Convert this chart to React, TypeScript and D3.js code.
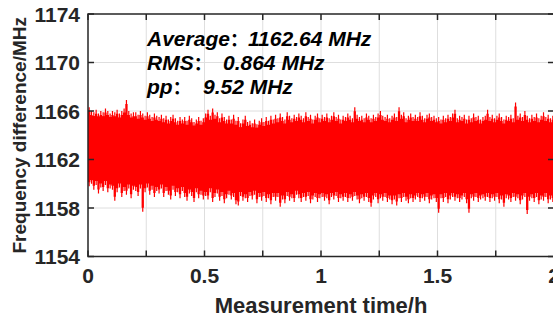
import * as d3 from "d3";

// axis ticks
const xTicks = [0, 0.5, 1, 1.5, 2];
const xGrid = [0.25, 0.5, 0.75, 1, 1.25, 1.5, 1.75];
const yTicks = [1154, 1158, 1162, 1166, 1170, 1174];

// dense body of the noise band, every 0.1 h
const coreTime = [0, 0.1, 0.2, 0.3, 0.4, 0.5, 0.6, 0.7, 0.8, 0.9, 1.0, 1.1, 1.2, 1.3, 1.4, 1.5, 1.6, 1.7, 1.8, 1.9, 2.0];
const coreHi = [1165.6, 1165.5, 1165.3, 1165.0, 1164.8, 1164.8, 1164.7, 1164.6, 1164.7, 1164.9, 1164.9, 1164.9, 1164.9, 1164.9, 1164.9, 1164.8, 1164.9, 1164.8, 1164.8, 1164.8, 1164.8];
const coreLo = [1160.3, 1160.2, 1160.2, 1160.2, 1160.0, 1160.0, 1160.0, 1159.9, 1159.9, 1160.0, 1160.0, 1160.0, 1160.0, 1159.9, 1159.9, 1159.9, 1159.9, 1159.9, 1159.9, 1159.9, 1159.9];

// spike extremes, one pair every 0.01 h
const spikeHi = [
  1166.3, 1166.0, 1165.9, 1166.1, 1165.8, 1166.0, 1165.9, 1166.2, 1166.0, 1165.8,
  1166.0, 1165.9, 1166.1, 1165.8, 1166.0, 1166.2, 1166.9, 1166.0, 1165.8, 1165.9,
  1165.9, 1165.7, 1166.0, 1165.8, 1165.6, 1165.9, 1165.7, 1165.5, 1165.8, 1165.6,
  1165.5, 1165.7, 1165.4, 1165.6, 1165.3, 1165.5, 1165.7, 1165.4, 1165.2, 1165.5,
  1165.3, 1165.5, 1165.2, 1165.6, 1165.4, 1165.1, 1165.3, 1165.5, 1165.2, 1165.4,
  1165.8, 1166.1, 1165.6, 1166.2, 1165.7, 1165.9, 1165.4, 1165.8, 1165.5, 1165.3,
  1165.6, 1165.3, 1165.7, 1165.2, 1165.5, 1165.0, 1165.3, 1165.6, 1165.1, 1165.2,
  1165.0, 1165.3, 1164.9, 1165.2, 1165.4, 1165.1, 1165.5, 1165.2, 1165.6, 1165.3,
  1165.7, 1165.4, 1165.8, 1165.5, 1165.3, 1165.9, 1165.6, 1165.4, 1165.7, 1165.5,
  1165.8, 1165.6, 1165.4, 1165.9, 1165.5, 1165.7, 1165.3, 1165.6, 1165.8, 1165.4,
  1165.7, 1165.5, 1165.8, 1165.4, 1165.6, 1165.9, 1165.5, 1165.7, 1165.3, 1165.6,
  1165.5, 1165.8, 1165.6, 1165.4, 1166.3, 1165.7, 1165.5, 1165.6, 1165.4, 1165.8,
  1165.6, 1165.4, 1165.7, 1165.5, 1165.8, 1166.0, 1165.6, 1165.5, 1165.7, 1165.4,
  1165.6, 1165.8, 1165.5, 1166.3, 1165.7, 1165.9, 1165.4, 1165.6, 1165.8, 1165.5,
  1165.7, 1165.5, 1165.9, 1165.6, 1165.4, 1165.7, 1165.8, 1165.5, 1165.6, 1165.4,
  1165.5, 1165.3, 1165.6, 1165.4, 1165.7, 1165.5, 1165.8, 1166.1, 1165.4, 1165.6,
  1165.5, 1165.7, 1165.3, 1165.6, 1165.4, 1165.8, 1165.5, 1165.6, 1165.3, 1165.5,
  1165.6, 1166.1, 1165.5, 1165.7, 1165.4, 1165.6, 1165.8, 1165.5, 1165.3, 1165.6,
  1165.5, 1165.7, 1165.4, 1166.7, 1165.6, 1165.8, 1165.5, 1166.0, 1165.6, 1165.4,
  1165.7, 1165.5, 1165.8, 1165.4, 1165.6, 1165.9, 1165.5, 1165.7, 1165.4, 1165.6,
];
const spikeLo = [
  1159.8, 1160.0, 1159.5, 1159.9, 1159.2, 1159.7, 1159.4, 1159.9, 1159.3, 1159.6,
  1159.5, 1158.6, 1159.3, 1159.7, 1158.9, 1159.4, 1159.1, 1159.6, 1158.8, 1159.5,
  1159.4, 1159.0, 1159.6, 1157.7, 1159.3, 1159.7, 1159.1, 1159.5, 1158.9, 1159.4,
  1159.2, 1159.6, 1158.9, 1159.4, 1159.1, 1158.7, 1159.5, 1159.0, 1159.3, 1158.8,
  1159.4, 1158.9, 1158.6, 1159.2, 1159.0, 1158.5, 1159.3, 1158.8, 1159.1, 1158.7,
  1159.0, 1158.7, 1159.3, 1158.5, 1158.9, 1159.2, 1158.6, 1159.0, 1158.4, 1158.8,
  1159.1, 1158.7, 1158.9, 1158.3, 1158.2, 1159.0, 1158.6, 1158.8, 1158.5, 1159.0,
  1158.7, 1159.1, 1158.4, 1158.9, 1158.6, 1159.0, 1158.5, 1158.8, 1158.3, 1158.9,
  1158.6, 1158.9, 1158.1, 1158.7, 1158.4, 1159.0, 1158.6, 1158.8, 1158.5, 1159.1,
  1158.8, 1158.5, 1158.9, 1158.6, 1159.0, 1158.4, 1158.7, 1158.9, 1158.5, 1158.8,
  1158.9, 1158.6, 1158.8, 1158.3, 1158.9, 1158.7, 1159.0, 1158.5, 1158.8, 1158.6,
  1158.9, 1158.5, 1158.8, 1158.6, 1159.0, 1158.7, 1158.4, 1158.8, 1158.6, 1158.9,
  1158.5, 1158.1, 1158.7, 1158.9, 1158.4, 1158.8, 1158.6, 1158.9, 1158.5, 1158.7,
  1158.3, 1158.7, 1158.2, 1158.8, 1158.5, 1158.9, 1158.6, 1158.4, 1158.8, 1158.5,
  1158.7, 1158.9, 1158.5, 1158.8, 1158.6, 1158.9, 1158.4, 1158.7, 1158.8, 1158.5,
  1157.6, 1158.8, 1158.5, 1158.9, 1158.4, 1158.7, 1158.9, 1158.6, 1158.8, 1158.5,
  1158.7, 1158.9, 1158.4, 1157.6, 1158.8, 1158.6, 1158.9, 1158.5, 1158.7, 1158.8,
  1158.6, 1158.9, 1158.5, 1158.8, 1158.6, 1158.9, 1158.4, 1158.7, 1158.1, 1158.8,
  1158.7, 1158.5, 1158.9, 1158.6, 1158.8, 1158.3, 1158.7, 1158.9, 1157.5, 1158.6,
  1158.8, 1158.5, 1158.9, 1158.3, 1158.7, 1158.6, 1158.9, 1158.4, 1158.7, 1158.5,
];
const sampleStep = 0.01;

const statNames = ["Average", "RMS", "pp"];
const statValues = ["1162.64 MHz", "0.864 MHz", "9.52 MHz"];

const W = 553;
const H = 318;
const margin = { left: 88, right: -1, top: 14, bottom: 61.5 };
const font = "'Liberation Sans', Arial, Helvetica, sans-serif";
const axisColor = "#262626";

export default function App() {
  const x = d3.scaleLinear().domain([0, 2]).range([margin.left, W - margin.right]);
  const y = d3.scaleLinear().domain([1154, 1174]).range([H - margin.bottom, margin.top]);
  const [x0, x1] = x.range();
  const [y0, y1] = y.range();

  const core = d3
    .area<number>()
    .x((d, i) => x(coreTime[i]))
    .y0((d, i) => y(coreLo[i]))
    .y1((d) => y(d));

  // each sample drawn as a thin column from its min to its max
  const spikes = spikeHi
    .map((hi, i) => {
      const a = x(i * sampleStep);
      const b = x((i + 1) * sampleStep);
      const top = y(hi);
      const bot = y(spikeLo[i]);
      // narrow needle at the extremes, full column in the body
      const mid = (a + b) / 2;
      return (
        `M${mid - 0.6},${top}H${mid + 0.6}V${bot}H${mid - 0.6}Z` +
        `M${a},${top + 4}H${b}V${bot - 4}H${a}Z`
      );
    })
    .join("");

  const tickLen = 6;
  const minorX = [0.25, 0.75, 1.25, 1.75];

  return (
    <svg
      width={W}
      height={H}
      style={{ position: "absolute", left: 0, top: 0, background: "#fff" }}
      fontFamily={font}
    >
      {/* grid */}
      <g stroke="#dedede" strokeWidth={1}>
        {xGrid.map((t) => (
          <line key={"gx" + t} x1={x(t)} x2={x(t)} y1={y0} y2={y1} />
        ))}
        {yTicks.slice(1, -1).map((v) => (
          <line key={"gy" + v} x1={x0} x2={x1} y1={y(v)} y2={y(v)} />
        ))}
      </g>

      {/* noise band */}
      <path d={core(coreHi) ?? ""} fill="#ff0000" />
      <path d={spikes} fill="#ff0000" />

      {/* axes box and ticks */}
      <g stroke={axisColor} strokeWidth={1.5} fill="none">
        <rect x={x0} y={y1} width={x1 - x0} height={y0 - y1} />
        {[...xTicks, ...minorX].map((t) => (
          <g key={"tx" + t}>
            <line x1={x(t)} x2={x(t)} y1={y0} y2={y0 - tickLen} />
            <line x1={x(t)} x2={x(t)} y1={y1} y2={y1 + tickLen} />
          </g>
        ))}
        {yTicks.map((v) => (
          <g key={"ty" + v}>
            <line x1={x0} x2={x0 + tickLen} y1={y(v)} y2={y(v)} />
            <line x1={x1} x2={x1 - tickLen} y1={y(v)} y2={y(v)} />
          </g>
        ))}
      </g>

      {/* tick labels */}
      <g fill={axisColor} fontWeight="bold" fontSize={21}>
        {xTicks.map((t) => (
          <text key={"lx" + t} x={x(t)} y={283} textAnchor="middle">
            {t}
          </text>
        ))}
        {yTicks.map((v) => (
          <text key={"ly" + v} x={80} y={y(v) + 7.5} textAnchor="end">
            {v}
          </text>
        ))}
      </g>

      {/* axis titles */}
      <text
        x={(x0 + x1) / 2}
        y={313}
        textAnchor="middle"
        fontWeight="bold"
        fontSize={22}
        fill={axisColor}
      >
        Measurement time/h
      </text>
      <text
        transform={`translate(26,${(y0 + y1) / 2}) rotate(-90)`}
        textAnchor="middle"
        fontWeight="bold"
        fontSize={19}
        fill={axisColor}
      >
        Frequency difference/MHz
      </text>

      {/* statistics */}
      <g fontWeight="bold" fontStyle="italic" fontSize={21} fill="#000">
        {statNames.map((s, i) => (
          <text key={s} x={147} y={46 + i * 24}>
            {s}
            <tspan fontFamily="'Noto Sans CJK SC'" fontStyle="normal" fontSize={18}>
              {"\uFF1A"}
            </tspan>
          </text>
        ))}
        {statValues.map((s, i) => (
          <text key={s} x={[248, 223, 203][i]} y={46 + i * 24}>
            {s}
          </text>
        ))}
      </g>
    </svg>
  );
}
